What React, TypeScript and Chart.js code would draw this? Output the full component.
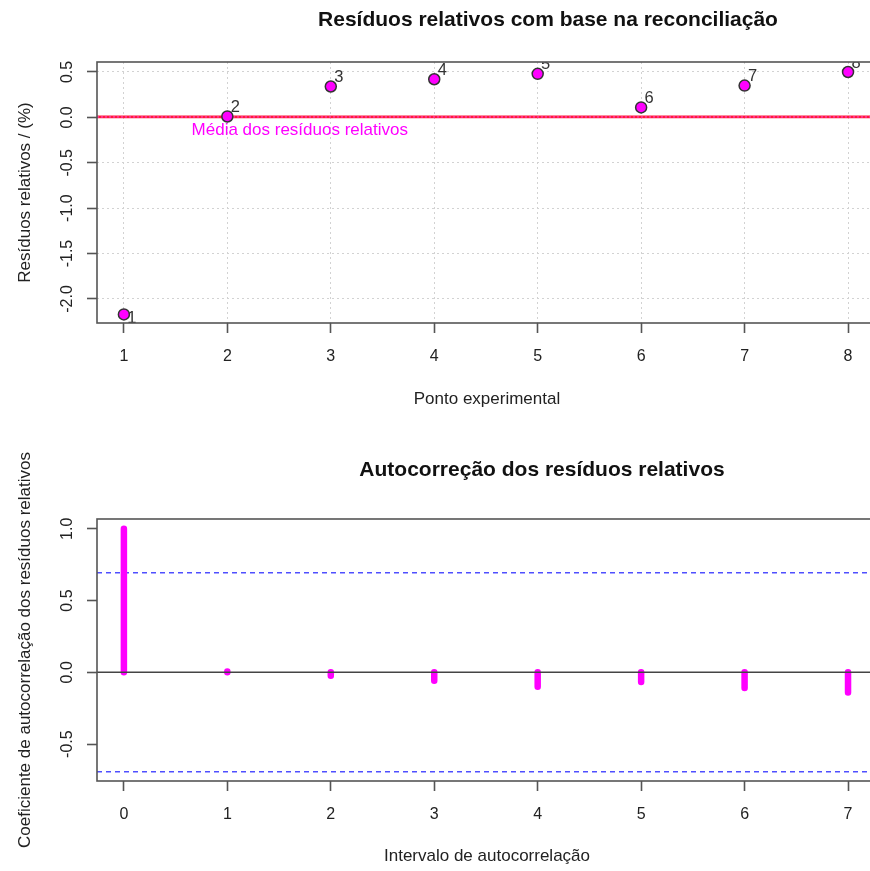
import React, { useEffect, useRef } from "react";
import { Chart, registerables } from "chart.js";

Chart.register(...registerables);

// ---------- data ----------
const pointIndex = [1, 2, 3, 4, 5, 6, 7, 8];
const relativeResiduals = [-2.17, 0.01, 0.34, 0.42, 0.48, 0.11, 0.35, 0.5];
const residualXTicks = [1, 2, 3, 4, 5, 6, 7, 8];
const residualYTicks = [-2.0, -1.5, -1.0, -0.5, 0.0, 0.5];

const lags = [0, 1, 2, 3, 4, 5, 6, 7];
const acfValues = [1.0, 0.005, -0.023, -0.058, -0.1, -0.067, -0.11, -0.14];
const acfXTicks = [0, 1, 2, 3, 4, 5, 6, 7];
const acfYTicks = [-0.5, 0.0, 0.5, 1.0];
const confidenceBound = 0.693;

const topTitle = "Resíduos relativos com base na reconciliação";
const bottomTitle = "Autocorreção dos resíduos relativos";
const meanLabel = "Média dos resíduos relativos";

// ---------- style ----------
const FONT = '"Liberation Sans", Arial, Helvetica, sans-serif';
const CANVAS_W = 880;
const TOP_H = 457;
const BOTTOM_TOP = 400;
const BOTTOM_H = 471;
const TEXT = "#222";
const AXIS = "#555";

function drawBox(chart: any) {
  const { ctx, chartArea: a } = chart;
  ctx.save();
  ctx.strokeStyle = AXIS;
  ctx.lineWidth = 1.6;
  ctx.strokeRect(a.left, a.top, a.right - a.left, a.bottom - a.top);
  ctx.restore();
}

function drawTitle(chart: any, text: string, cx: number, cy: number) {
  const { ctx } = chart;
  ctx.save();
  ctx.font = `bold 21px ${FONT}`;
  ctx.fillStyle = "#111";
  ctx.textAlign = "center";
  ctx.textBaseline = "middle";
  ctx.fillText(text, cx, cy);
  ctx.restore();
}

function xAxis(
  ticksArr: number[],
  min: number,
  max: number,
  title: string,
  grid: boolean,
  height: number,
  titlePad: number
) {
  return {
    type: "linear",
    min,
    max,
    afterBuildTicks: (s: any) => {
      s.ticks = ticksArr.map((v) => ({ value: v }));
    },
    afterFit: (s: any) => {
      s.height = height;
      s.paddingLeft = 0;
      s.paddingRight = 0;
    },
    grid: {
      display: true,
      drawOnChartArea: grid,
      color: "#d2d2d2",
      lineWidth: 1,
      drawTicks: true,
      tickLength: 10,
      tickColor: AXIS,
      tickWidth: 1.6,
      tickBorderDash: [],
    },
    border: { display: false, dash: [2, 3] },
    ticks: {
      font: { family: FONT, size: 16 },
      color: TEXT,
      padding: 14,
      maxRotation: 0,
      minRotation: 0,
      callback: (v: any) => String(v),
    },
    title: {
      display: true,
      text: title,
      font: { family: FONT, size: 17 },
      color: TEXT,
      padding: { top: 0, bottom: titlePad },
    },
  };
}

function yAxis(ticksArr: number[], min: number, max: number, title: string, grid: boolean) {
  return {
    type: "linear",
    min,
    max,
    afterBuildTicks: (s: any) => {
      s.ticks = ticksArr.map((v) => ({ value: v }));
    },
    afterFit: (s: any) => {
      s.width = 97;
      s.paddingTop = 0;
      s.paddingBottom = 0;
    },
    grid: {
      display: true,
      drawOnChartArea: grid,
      color: "#d2d2d2",
      lineWidth: 1,
      drawTicks: true,
      tickLength: 10,
      tickColor: AXIS,
      tickWidth: 1.6,
      tickBorderDash: [],
    },
    border: { display: false, dash: [2, 3] },
    ticks: {
      font: { family: FONT, size: 16 },
      color: TEXT,
      padding: 6,
      minRotation: 90,
      maxRotation: 90,
      crossAlign: "center",
      callback: (v: any) => Number(v).toFixed(1),
    },
    title: {
      display: true,
      text: title,
      font: { family: FONT, size: 17 },
      color: TEXT,
      padding: { top: 15, bottom: 0 },
    },
  };
}

const residualDecor = {
  id: "residualDecor",
  beforeDatasetsDraw(chart: any) {
    const { ctx, chartArea: a, scales } = chart;
    const mean = relativeResiduals.reduce((s, v) => s + v, 0) / relativeResiduals.length;
    const y = scales.y.getPixelForValue(mean);
    ctx.save();
    ctx.strokeStyle = "#ff1a3a";
    ctx.lineWidth = 2.8;
    ctx.beginPath();
    ctx.moveTo(a.left, y);
    ctx.lineTo(a.right, y);
    ctx.stroke();
    ctx.strokeStyle = "#ff40c0";
    ctx.lineWidth = 1.2;
    ctx.setLineDash([2, 2]);
    ctx.beginPath();
    ctx.moveTo(a.left, y);
    ctx.lineTo(a.right, y);
    ctx.stroke();
    ctx.setLineDash([]);
    ctx.font = `17px ${FONT}`;
    ctx.fillStyle = "#ff00ff";
    ctx.textAlign = "center";
    ctx.textBaseline = "middle";
    ctx.fillText(meanLabel, scales.x.getPixelForValue(2.7), scales.y.getPixelForValue(-0.145));
    ctx.restore();
  },
  afterDatasetsDraw(chart: any) {
    const { ctx, chartArea: a } = chart;
    const meta = chart.getDatasetMeta(0);
    ctx.save();
    ctx.beginPath();
    ctx.rect(a.left, a.top, a.right - a.left, a.bottom - a.top);
    ctx.clip();
    ctx.font = `16.5px ${FONT}`;
    ctx.fillStyle = "#333";
    ctx.textAlign = "center";
    ctx.textBaseline = "middle";
    meta.data.forEach((el: any, i: number) => {
      const nearBottom = a.bottom - el.y < 20;
      ctx.fillText(String(pointIndex[i]), el.x + 8, el.y + (nearBottom ? 4 : -9));
    });
    ctx.restore();
  },
  afterDraw(chart: any) {
    drawBox(chart);
    drawTitle(chart, topTitle, 548, 20);
  },
};

const acfDecor = {
  id: "acfDecor",
  beforeDatasetsDraw(chart: any) {
    const { ctx, chartArea: a, scales } = chart;
    ctx.save();
    ctx.strokeStyle = "rgba(70,70,255,0.95)";
    ctx.lineWidth = 1.5;
    ctx.setLineDash([5, 4]);
    [confidenceBound, -confidenceBound].forEach((b) => {
      const y = scales.y.getPixelForValue(b);
      ctx.beginPath();
      ctx.moveTo(a.left, y);
      ctx.lineTo(a.right, y);
      ctx.stroke();
    });
    ctx.restore();
  },
  afterDatasetsDraw(chart: any) {
    const { ctx, chartArea: a, scales } = chart;
    const y = scales.y.getPixelForValue(0);
    ctx.save();
    ctx.strokeStyle = "#444";
    ctx.lineWidth = 1.5;
    ctx.beginPath();
    ctx.moveTo(a.left, y);
    ctx.lineTo(a.right, y);
    ctx.stroke();
    ctx.restore();
  },
  afterDraw(chart: any) {
    drawBox(chart);
    drawTitle(chart, bottomTitle, 542, 470 - BOTTOM_TOP);
  },
};

function useChart(ref: React.RefObject<HTMLCanvasElement>, makeConfig: () => any) {
  useEffect(() => {
    if (!ref.current) return;
    const chart = new Chart(ref.current, makeConfig());
    return () => chart.destroy();
  }, []);
}

export default function App() {
  const topRef = useRef<HTMLCanvasElement>(null);
  const bottomRef = useRef<HTMLCanvasElement>(null);

  useChart(topRef, () => ({
    type: "scatter",
    data: {
      datasets: [
        {
          data: pointIndex.map((x, i) => ({ x, y: relativeResiduals[i] })),
          backgroundColor: "#ff00ff",
          borderColor: "#333",
          borderWidth: 1.5,
          pointRadius: 5.5,
          pointHoverRadius: 5.5,
        },
      ],
    },
    options: {
      responsive: false,
      animation: false,
      events: [],
      layout: { autoPadding: false, padding: { top: 62, right: 3, left: 0, bottom: 0 } },
      plugins: { legend: { display: false }, tooltip: { enabled: false }, title: { display: false } },
      scales: {
        x: xAxis(residualXTicks, 0.74, 8.28, "Ponto experimental", true, TOP_H - 323, 47),
        y: yAxis(residualYTicks, -2.265, 0.61, "Resíduos relativos / (%)", true),
      },
    },
    plugins: [residualDecor],
  }));

  useChart(bottomRef, () => ({
    type: "line",
    data: {
      datasets: [
        {
          data: lags.flatMap((lag, i) => [
            { x: lag, y: 0 },
            { x: lag, y: acfValues[i] },
            { x: lag, y: null },
          ]),
          borderColor: "#ff00ff",
          borderWidth: 6.5,
          borderCapStyle: "round",
          pointRadius: 0,
          spanGaps: false,
          tension: 0,
          fill: false,
        },
      ],
    },
    options: {
      responsive: false,
      animation: false,
      events: [],
      layout: { autoPadding: false, padding: { top: 519 - BOTTOM_TOP, right: 3, left: 0, bottom: 0 } },
      plugins: { legend: { display: false }, tooltip: { enabled: false }, title: { display: false } },
      scales: {
        x: xAxis(
          acfXTicks,
          -0.26,
          7.28,
          "Intervalo de autocorrelação",
          false,
          BOTTOM_H - (781 - BOTTOM_TOP),
          4
        ),
        y: yAxis(acfYTicks, -0.757, 1.068, "Coeficiente de autocorrelação dos resíduos relativos", false),
      },
    },
    plugins: [acfDecor],
  }));

  return (
    <div
      style={{
        position: "absolute",
        left: 0,
        top: 0,
        width: 870,
        height: 871,
        overflow: "hidden",
        background: "#fff",
      }}
    >
      <canvas
        ref={topRef}
        width={CANVAS_W}
        height={TOP_H}
        style={{ position: "absolute", left: 0, top: 0, width: CANVAS_W, height: TOP_H }}
      />
      <canvas
        ref={bottomRef}
        width={CANVAS_W}
        height={BOTTOM_H}
        style={{ position: "absolute", left: 0, top: BOTTOM_TOP, width: CANVAS_W, height: BOTTOM_H }}
      />
    </div>
  );
}
